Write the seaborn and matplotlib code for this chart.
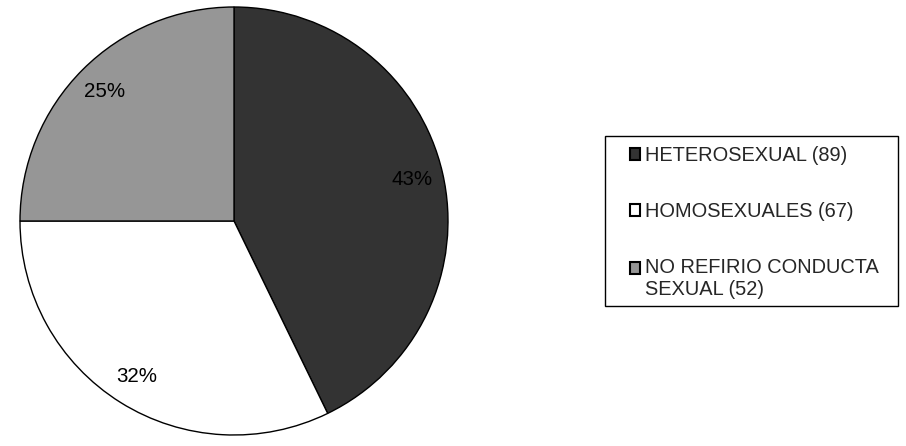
import matplotlib
matplotlib.use("Agg")
import matplotlib.pyplot as plt
from matplotlib.patches import Rectangle
import seaborn as sns

categories = ["HETEROSEXUAL (89)", "HOMOSEXUALES (67)", "NO REFIRIO CONDUCTA\nSEXUAL (52)"]
values = [89, 67, 52]
colors = ["#333333", "#ffffff", "#969696"]

sns.set_theme(style="white")
plt.rcParams['font.family'] = ['Liberation Sans', 'DejaVu Sans']

fig = plt.figure(figsize=(9.06, 4.46), dpi=100)
ax = fig.add_axes([20/906, 11/446, 428/906, 428/446])
wedges, texts, autotexts = ax.pie(
    values, colors=colors, startangle=90, counterclock=False,
    autopct=lambda p: f"{p:.0f}%", pctdistance=0.855,
    wedgeprops=dict(edgecolor="black", linewidth=1.0),
    textprops=dict(fontsize=14.8, color="black"))
ax.set_aspect("equal")
ax.set_xlim(-1, 1)
ax.set_ylim(-1, 1)

# legend frame
fig.patches.append(Rectangle((605/906, 1 - 306/446), 293/906, 170/446,
                             transform=fig.transFigure, facecolor="white",
                             edgecolor="black", linewidth=1.0, zorder=0))

leg = fig.legend(wedges, categories, loc="upper left",
                 bbox_to_anchor=(630/906, 1 - 146/446), bbox_transform=fig.transFigure,
                 borderaxespad=0, borderpad=0, fontsize=14.4, frameon=False,
                 handlelength=0.5, handleheight=0.5,
                 handletextpad=0.25, labelspacing=1.85)
for t in leg.get_texts():
    t.set_linespacing(1.22)
for h in leg.legend_handles:
    h.set_edgecolor("black")
    h.set_linewidth(1.5)
# align the marker of the two-line entry with its first line
last = leg.legend_handles[-1]
last.set_y(last.get_y() + 8.0)

fig.savefig("out.png", dpi=100, facecolor="white")
